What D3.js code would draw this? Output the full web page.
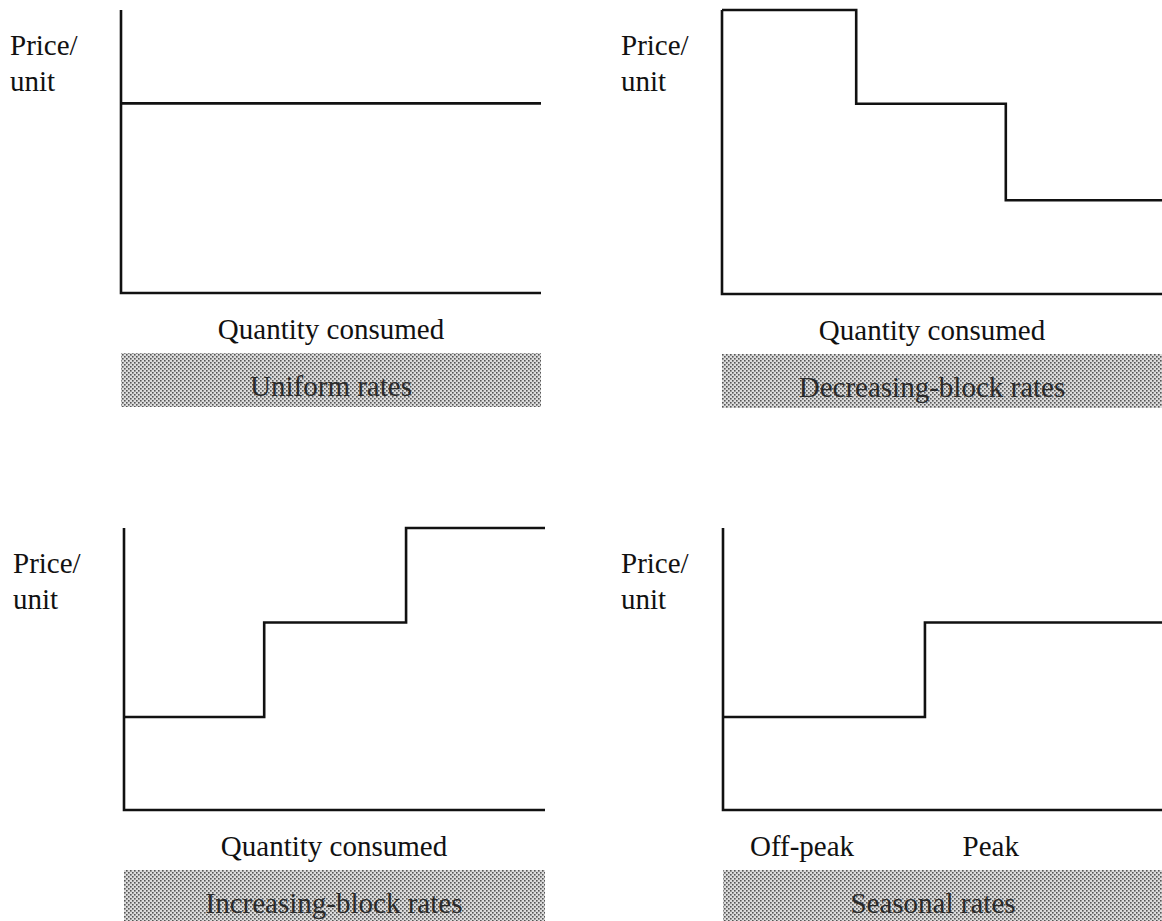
<!DOCTYPE html>
<html>
<head>
<meta charset="utf-8">
<script src="https://cdn.jsdelivr.net/npm/d3@7"></script>
<style>
  body { margin: 0; background: #fff; }
  svg { display: block; }
  text { font-family: "Liberation Serif", "Times New Roman", serif; fill: #111; }
</style>
</head>
<body>
<svg id="chart" width="1162" height="921"></svg>
<script>
// Step levels per panel (price as fraction of axis height), break points as fraction of quantity axis
const uniformBreaks = [0, 1];
const uniformPrices = [0.67];

const decreasingBreaks = [0, 0.305, 0.645, 1];
const decreasingPrices = [1.0, 0.67, 0.33];

const increasingBreaks = [0, 0.333, 0.67, 1];
const increasingPrices = [0.33, 0.665, 1.0];

const seasonalBreaks = [0, 0.46, 1];
const seasonalPrices = [0.33, 0.665];
const seasonalLabels = ['Off-peak', 'Peak'];
const seasonalLabelPos = [0.18, 0.61];

const yLabel = ['Price/', 'unit'];
const xLabel = 'Quantity consumed';
const titles = ['Uniform rates', 'Decreasing-block rates', 'Increasing-block rates', 'Seasonal rates'];

// panel layout
const panels = [
  { x0: 121, x1: 541, top: 10, bottom: 293, labX: 10, breaks: uniformBreaks, prices: uniformPrices, title: titles[0] },
  { x0: 722, x1: 1162, top: 10, bottom: 294, labX: 621, breaks: decreasingBreaks, prices: decreasingPrices, title: titles[1] },
  { x0: 124, x1: 545, top: 528, bottom: 810, labX: 13, breaks: increasingBreaks, prices: increasingPrices, title: titles[2] },
  { x0: 723, x1: 1162, top: 528, bottom: 810, labX: 621, breaks: seasonalBreaks, prices: seasonalPrices, title: titles[3], ticks: seasonalLabels }
];

const svg = d3.select('#chart');

// halftone fill for the caption boxes
const pat = svg.append('defs').append('pattern')
    .attr('id', 'dots')
    .attr('patternUnits', 'userSpaceOnUse')
    .attr('width', 4).attr('height', 4);
pat.append('rect').attr('width', 4).attr('height', 4).attr('fill', '#dcdcdc');
pat.append('rect').attr('x', 0).attr('y', 0).attr('width', 1.6).attr('height', 1.6).attr('fill', '#555');
pat.append('rect').attr('x', 2).attr('y', 2).attr('width', 1.6).attr('height', 1.6).attr('fill', '#555');

const fs = 29;

panels.forEach((p, i) => {
    const g = svg.append('g');
    const x = d3.scaleLinear().domain([0, 1]).range([p.x0, p.x1]);
    const y = d3.scaleLinear().domain([0, 1]).range([p.bottom, p.top]);
    const line = d3.line().x(d => x(d[0])).y(d => y(d[1]));

    // axes (L shape)
    g.append('path')
        .attr('d', line([[0, 1], [0, 0], [1, 0]]))
        .attr('fill', 'none')
        .attr('stroke', '#111')
        .attr('stroke-width', 2.6);

    // price schedule as step line
    const pts = p.prices.map((v, k) => [p.breaks[k], v]);
    pts.push([p.breaks[p.breaks.length - 1], p.prices[p.prices.length - 1]]);
    g.append('path')
        .attr('d', d3.line().x(d => x(d[0])).y(d => y(d[1])).curve(d3.curveStepAfter)(pts))
        .attr('fill', 'none')
        .attr('stroke', '#111')
        .attr('stroke-width', 2.6);

    // y label
    g.selectAll('.ylab')
        .data(yLabel)
        .enter().append('text')
        .attr('x', p.labX)
        .attr('y', (d, k) => p.top + 45 + k * 36)
        .attr('font-size', fs)
        .text(d => d);

    // x label(s)
    const mid = (p.x0 + Math.min(p.x1, p.x0 + 420)) / 2;
    if (p.ticks) {
        g.selectAll('.xt')
            .data(p.ticks)
            .enter().append('text')
            .attr('x', (d, k) => x(seasonalLabelPos[k]))
            .attr('y', p.bottom + 46)
            .attr('text-anchor', 'middle')
            .attr('font-size', fs)
            .text(d => d);
    } else {
        g.append('text')
            .attr('x', mid)
            .attr('y', p.bottom + 46)
            .attr('text-anchor', 'middle')
            .attr('font-size', fs)
            .text(xLabel);
    }

    // caption box
    g.append('rect')
        .attr('x', p.x0)
        .attr('y', p.bottom + 60)
        .attr('width', p.x1 - p.x0)
        .attr('height', 54)
        .attr('fill', 'url(#dots)');
    g.append('text')
        .attr('x', mid)
        .attr('y', p.bottom + 103)
        .attr('text-anchor', 'middle')
        .attr('font-size', fs)
        .style('fill', '#2a2a2a')
        .text(p.title);
});
</script>
</body>
</html>
